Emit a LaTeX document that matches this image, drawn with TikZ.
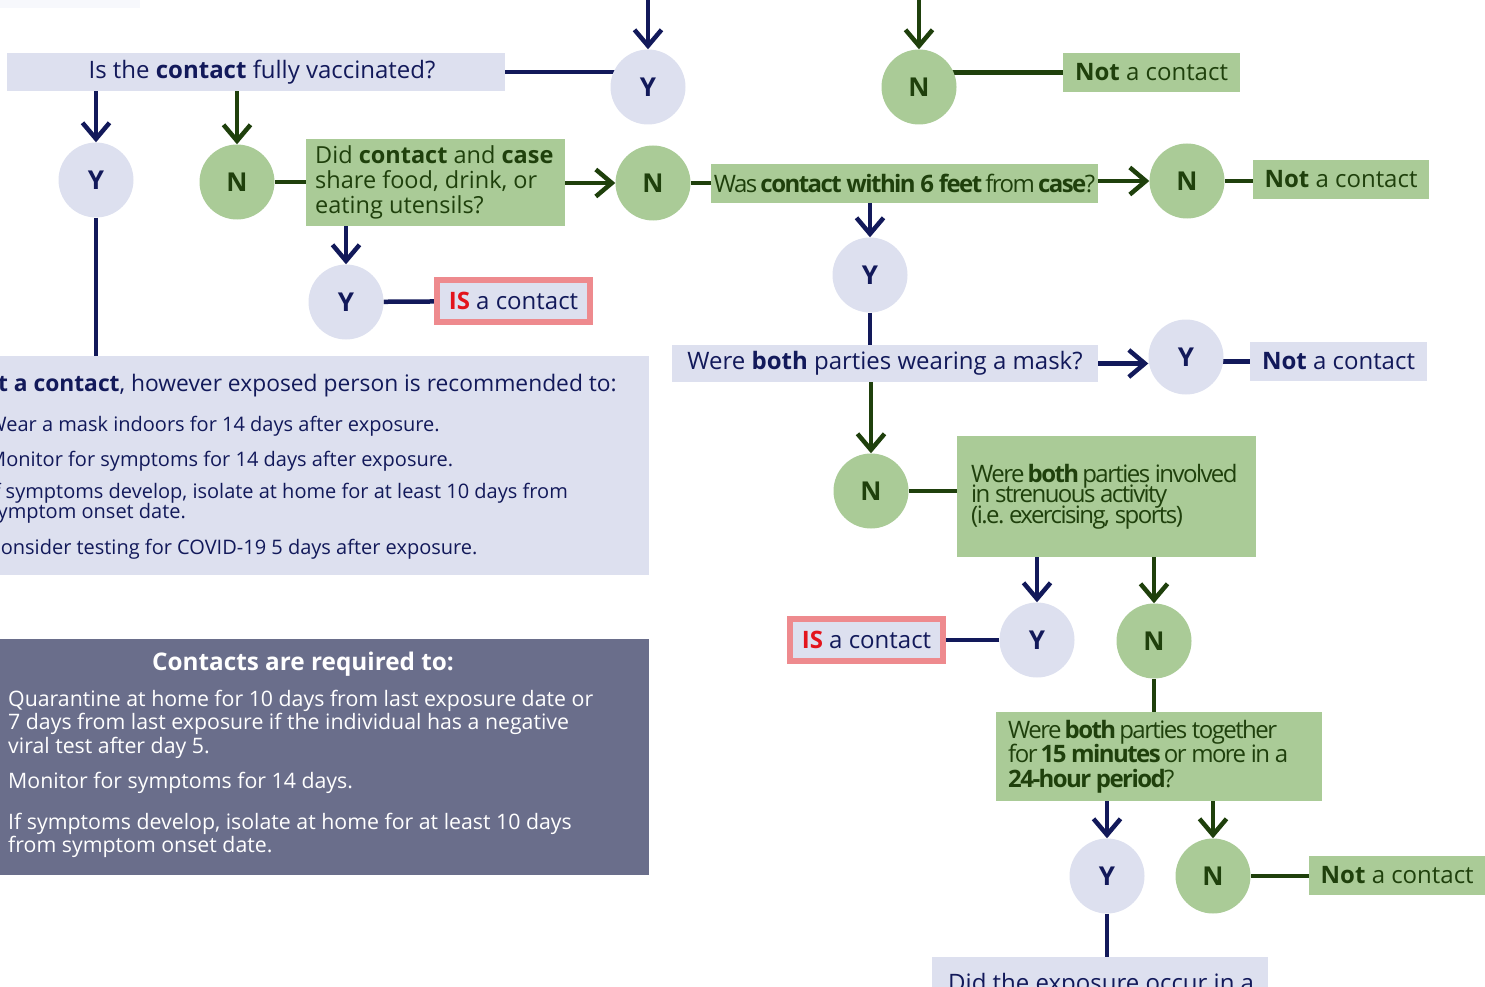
\documentclass[tikz,border=0pt]{standalone}
\usepackage{fontspec}
\setmainfont{Open Sans}
\newfontfamily\narrow[LetterSpace=-6.5]{Open Sans}
\usetikzlibrary{arrows.meta}
\usetikzlibrary{backgrounds}
\frenchspacing
\DeclareRobustCommand\tightlines{\lineskiplimit=-20pt\relax}

\definecolor{navy}{HTML}{12195A}
\definecolor{leaf}{HTML}{1F400C}
\definecolor{lav}{HTML}{DDE0EF}
\definecolor{sage}{HTML}{AACB97}
\definecolor{pinkline}{HTML}{EE8A8E}
\definecolor{isred}{HTML}{E3141C}
\definecolor{slate}{HTML}{6A6E8B}
\definecolor{faint}{HTML}{F7F8FC}

\begin{document}
\begin{tikzpicture}[x=1pt, y=-1pt, >={Straight Barb[length=16pt,width=27pt]},
	yes/.style={circle, fill=lav, text=navy, minimum size=75pt, inner sep=0pt, font=\bfseries\fontsize{26}{26}\selectfont},
	no/.style={circle, fill=sage, text=leaf, minimum size=75pt, inner sep=0pt, font=\bfseries\fontsize{26}{26}\selectfont},
	bluebox/.style={fill=lav, text=navy, inner sep=0pt, font=\fontsize{24}{25}\selectfont},
	greenbox/.style={fill=sage, text=leaf, inner sep=0pt, font=\fontsize{24}{25}\selectfont},
	isbox/.style={fill=lav, draw=pinkline, line width=6pt, text=navy, inner sep=0pt, minimum width=153pt, minimum height=42pt, font=\fontsize{24}{25}\selectfont},
	bl/.style={navy, line width=4.5pt},
	gl/.style={leaf, line width=4.5pt}]
	\useasboundingbox (0,0) rectangle (1485,987);
	\clip (0,0) rectangle (1485,987);

	\fill[faint] (-5,-5) rectangle (140,8);

	% top row
	\node[bluebox, minimum width=498pt, minimum height=38pt] (vacc) at (256,72) {\hspace*{12pt}Is the \textbf{contact} fully vaccinated?};
	\node[yes] (yB) at (648,87) {Y};
	\node[no] (nTop) at (919,87) {N};
	\node[greenbox, minimum width=177pt, minimum height=39pt] (notA) at (1151.5,72.5) {\textbf{Not} a contact};
	\coordinate (topY) at (648,-2);
	\coordinate (topN) at (919,-2);

	% second row
	\node[yes] (yA) at (96,180) {Y};
	\node[no] (nA) at (237,182) {N};
	\node[greenbox, minimum width=259pt, minimum height=87pt, text width=241pt, align=flush left, inner xsep=9pt, font=\fontsize{23.5}{25}\selectfont, anchor=west] (share) at (306,182.5) {Did \textbf{contact} and \textbf{case}\\share food, drink, or\\eating utensils?};
	\node[no] (nB) at (653,183) {N};
	\node[greenbox, minimum width=387pt, minimum height=39pt, font=\narrow\fontsize{24}{25}\selectfont] (sixft) at (904.5,183.5) {Was \textbf{contact within 6 feet} from \textbf{case}?};
	\node[no] (nC) at (1187,181) {N};
	\node[greenbox, minimum width=176pt, minimum height=39pt] (notB) at (1341,179.5) {\textbf{Not} a contact};

	\node[yes] (yC) at (346,302) {Y};
	\node[isbox] (isA) at (513.5,301) {\textcolor{isred}{\textbf{IS}} a contact};
	\node[yes] (yD) at (870,275) {Y};

	% mask question
	\node[bluebox, minimum width=426pt, minimum height=37pt] (mask) at (885,363.5) {Were \textbf{both} parties wearing a mask?};
	\node[yes] (yE) at (1186,357) {Y};
	\node[bluebox, minimum width=177pt, minimum height=39pt] (notC) at (1338.5,361.5) {\textbf{Not} a contact};

	\node[no] (nD) at (871,491) {N};
	\node[greenbox, minimum width=299pt, minimum height=121pt, text width=271pt, align=flush left, inner xsep=14pt, font=\narrow\fontsize{24}{20.5}\selectfont\tightlines, anchor=west] (strain) at (957,496.5) {Were \textbf{both} parties involved\\in strenuous activity\\(i.e. exercising, sports)};

	\node[yes] (yF) at (1037,640) {Y};
	\node[isbox] (isB) at (866.5,640) {\textcolor{isred}{\textbf{IS}} a contact};
	\node[no] (nE) at (1154,641) {N};
	\node[greenbox, minimum width=326pt, minimum height=89pt, text width=302pt, align=flush left, inner xsep=12pt, font=\narrow\fontsize{24}{24.5}\selectfont\tightlines, anchor=west] (fifteen) at (996,756.5) {Were \textbf{both} parties together\\for \textbf{15 minutes} or more in a\\\textbf{24-hour period}?};
	\node[yes] (yG) at (1107,876) {Y};
	\node[no] (nF) at (1213,876) {N};
	\node[greenbox, minimum width=176pt, minimum height=39pt, anchor=west] (notD) at (1309,875.5) {\textbf{Not} a contact};
	\node[fill=lav, minimum width=336pt, minimum height=60pt, anchor=north west, inner sep=0pt] (venue) at (932,957) {};
	\node[anchor=base west, text=navy, inner sep=0pt, font=\fontsize{24}{25}\selectfont] (venuetxt) at (948,991) {Did the exposure occur in a};

	% left panels
	\node[fill=lav, minimum width=689pt, minimum height=219pt, anchor=north west, inner sep=0pt] (advice) at (-40,356) {};
	\begin{scope}[text=navy, inner sep=0pt, font=\fontsize{20}{20}\selectfont]
		\node[anchor=base east, font=\fontsize{22.8}{23}\selectfont] (adv0) at (617,391) {\textbf{Not a contact}, however exposed person is recommended to:};
		\node[anchor=base west] (adv1) at (-12,431) {Wear a mask indoors for 14 days after exposure.};
		\node[anchor=base west] (adv2) at (-12,466) {Monitor for symptoms for 14 days after exposure.};
		\node[anchor=base west] (adv3) at (-12,498) {If symptoms develop, isolate at home for at least 10 days from};
		\node[anchor=base west] (adv4) at (-12,518) {symptom onset date.};
		\node[anchor=base west] (adv5) at (-12,554) {Consider testing for COVID-19 5 days after exposure.};
	\end{scope}

	\node[fill=slate, minimum width=659pt, minimum height=236pt, anchor=north west, inner sep=0pt] (required) at (-10,639) {};
	\begin{scope}[text=white, inner sep=0pt, font=\fontsize{21.3}{21.3}\selectfont]
		\node[anchor=base, font=\bfseries\fontsize{24.3}{24.3}\selectfont] (req0) at (303,670) {Contacts are required to:};
		\node[anchor=base west] (req1) at (8,706) {Quarantine at home for 10 days from last exposure date or};
		\node[anchor=base west] (req2) at (8,729) {7 days from last exposure if the individual has a negative};
		\node[anchor=base west] (req3) at (8,753) {viral test after day 5.};
		\node[anchor=base west] (req4) at (8,788) {Monitor for symptoms for 14 days.};
		\node[anchor=base west] (req5) at (8,829) {If symptoms develop, isolate at home for at least 10 days};
		\node[anchor=base west] (req6) at (8,852) {from symptom onset date.};
	\end{scope}

	% connectors
	\begin{scope}[on background layer]
		\draw[bl,->] (topY) -- (yB);
		\draw[gl,->] (topN) -- (nTop);
		\draw[bl] (vacc.east) -- (vacc.east -| yB);
		\draw[gl] (nTop |- notA.west) -- (notA.west);
		\draw[bl,->] (vacc.south -| yA) -- (yA);
		\draw[gl,->] (vacc.south -| nA) -- (nA);
		\draw[bl] (yA) -- (yA |- advice.north);
		\draw[gl] (nA) -- (nA -| share.west);
		\draw[gl,->] (share.east |- nB) -- (nB);
		\draw[bl,->] (share.south -| yC) -- (yC);
		\draw[bl] (yC) -- (isA);
		\draw[gl] (nB) -- (nB -| sixft.west);
		\draw[gl,->] (sixft.east |- nC) -- (nC);
		\draw[gl] (nC) -- (nC -| notB.west);
		\draw[bl,->] (sixft.south -| yD) -- (yD);
		\draw[bl] (yD) -- (mask.north -| yD);
		\draw[bl,->] (mask.east) -- (mask.east -| yE.west);
		\draw[bl] (yE |- notC.west) -- (notC.west);
		\draw[gl,->] (mask.south -| nD) -- (nD);
		\draw[gl] (nD) -- (nD -| strain.west);
		\draw[bl,->] (strain.south -| yF) -- (yF);
		\draw[gl,->] (strain.south -| nE) -- (nE);
		\draw[bl] (yF) -- (yF -| isB.east);
		\draw[gl] (nE) -- (fifteen.north -| nE);
		\draw[bl,->] (fifteen.south -| yG) -- (yG);
		\draw[gl,->] (fifteen.south -| nF) -- (nF);
		\draw[bl] (yG) -- (venue.north -| yG);
		\draw[gl] (nF) -- (nF -| notD.west);
	\end{scope}
\end{tikzpicture}
\end{document}
